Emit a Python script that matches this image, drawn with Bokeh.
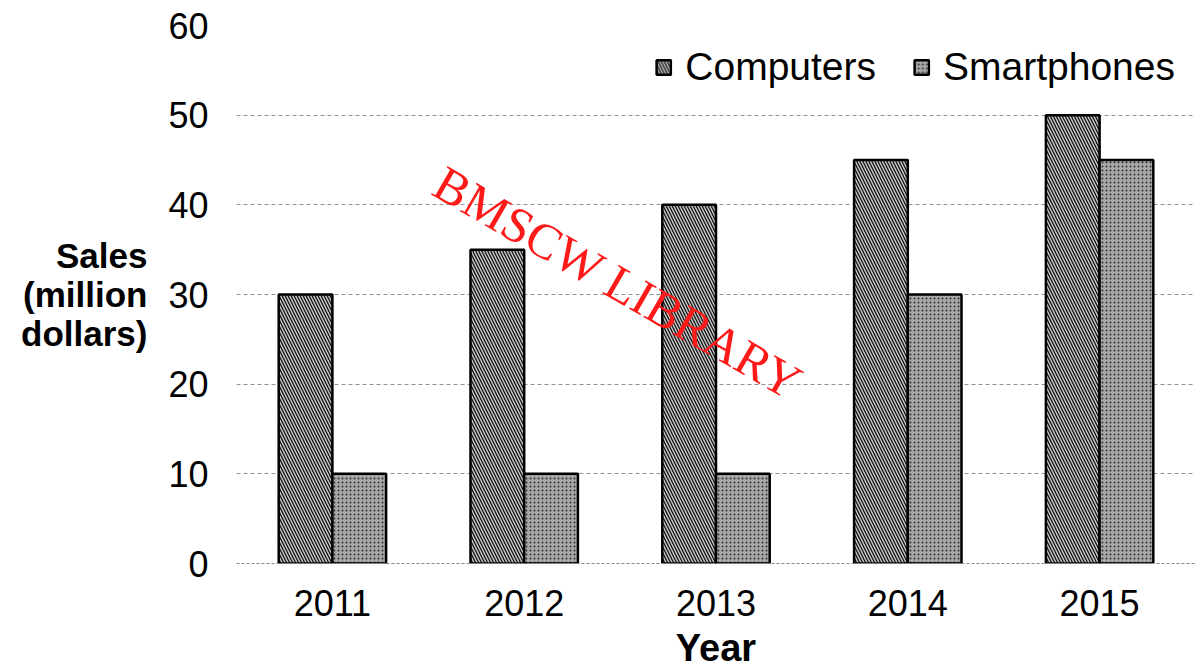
from bokeh.plotting import figure
from bokeh.models import ColumnDataSource, FactorRange, Range1d, Label, Legend, LegendItem, FixedTicker
from bokeh.transform import dodge
from bokeh.embed import file_html
from bokeh.resources import INLINE

years = ["2011", "2012", "2013", "2014", "2015"]
computers = [30, 35, 40, 45, 50]
smartphones = [10, 10, 10, 30, 45]
y_ticks = [0, 10, 20, 30, 40, 50, 60]

src = ColumnDataSource(dict(years=years, computers=computers, smartphones=smartphones))

p = figure(width=1195, height=671, x_range=FactorRange(*years), y_range=Range1d(0, 60),
           output_backend="svg", toolbar_location=None,
           min_border_left=236, min_border_right=0, min_border_top=25, min_border_bottom=108)
p.outline_line_color = None
p.background_fill_color = "white"

r1 = p.vbar(x=dodge("years", -0.14, range=p.x_range), top="computers", width=0.28, source=src,
            fill_color="#c8c8c8", line_color="black", line_width=2.5,
            hatch_pattern="\\", hatch_color="#111111", hatch_scale=6, hatch_weight=1.3)
r2 = p.vbar(x=dodge("years", 0.14, range=p.x_range), top="smartphones", width=0.28, source=src,
            fill_color="#a8a8a8", line_color="black", line_width=2.5,
            hatch_pattern=".", hatch_color="#333333", hatch_scale=4, hatch_weight=1)

legend = Legend(items=[LegendItem(label="Computers", renderers=[r1]),
                       LegendItem(label="Smartphones", renderers=[r2])],
                orientation="horizontal", location="top_right",
                label_text_font="Liberation Sans", label_text_font_size="39px",
                label_text_color="black", label_standoff=13,
                glyph_width=18, glyph_height=18, spacing=36, padding=0, margin=20,
                border_line_color=None, background_fill_alpha=0)
p.add_layout(legend)

# axes
p.yaxis.ticker = FixedTicker(ticks=y_ticks)
p.yaxis.axis_line_color = None
p.yaxis.major_tick_line_color = None
p.yaxis.minor_tick_line_color = None
p.yaxis.major_label_standoff = 22
p.yaxis.major_label_text_font = "Liberation Sans"
p.yaxis.major_label_text_font_size = "36px"
p.yaxis.major_label_text_color = "black"
p.yaxis.axis_label = "Sales\n(million\ndollars)"
p.yaxis.axis_label_orientation = "horizontal"
p.yaxis.axis_label_text_font = "Liberation Sans"
p.yaxis.axis_label_text_font_style = "bold"
p.yaxis.axis_label_text_font_size = "35px"
p.yaxis.axis_label_text_line_height = 1.0
p.yaxis.axis_label_text_color = "black"
p.yaxis.axis_label_text_align = "center"
p.yaxis.axis_label_standoff = 18

p.xaxis.axis_line_color = "#888888"
p.xaxis.axis_line_dash = "3 2"
p.xaxis.major_tick_line_color = None
p.xaxis.minor_tick_line_color = None
p.xaxis.major_label_standoff = 20
p.xaxis.major_label_text_font = "Liberation Sans"
p.xaxis.major_label_text_font_size = "36px"
p.xaxis.major_label_text_color = "black"
p.xaxis.axis_label = "Year"
p.xaxis.axis_label_text_font = "Liberation Sans"
p.xaxis.axis_label_text_font_style = "bold"
p.xaxis.axis_label_text_font_size = "38px"
p.xaxis.axis_label_text_color = "black"
p.xaxis.axis_label_standoff = 8

p.xgrid.grid_line_color = None
p.ygrid.ticker = FixedTicker(ticks=y_ticks[1:-1])
p.ygrid.grid_line_color = "#777777"
p.ygrid.grid_line_dash = "4 3"
p.ygrid.grid_line_width = 1
p.ygrid.grid_line_alpha = 0.8

wm = Label(x=1.99, y=31.3, text="BMSCW LIBRARY", angle=-30, angle_units="deg",
           text_font="Liberation Serif", text_font_size="50px", text_color="#ff1a1a",
           text_align="center", text_baseline="middle")
p.add_layout(wm)

open("out.html", "w").write(file_html(p, INLINE))
